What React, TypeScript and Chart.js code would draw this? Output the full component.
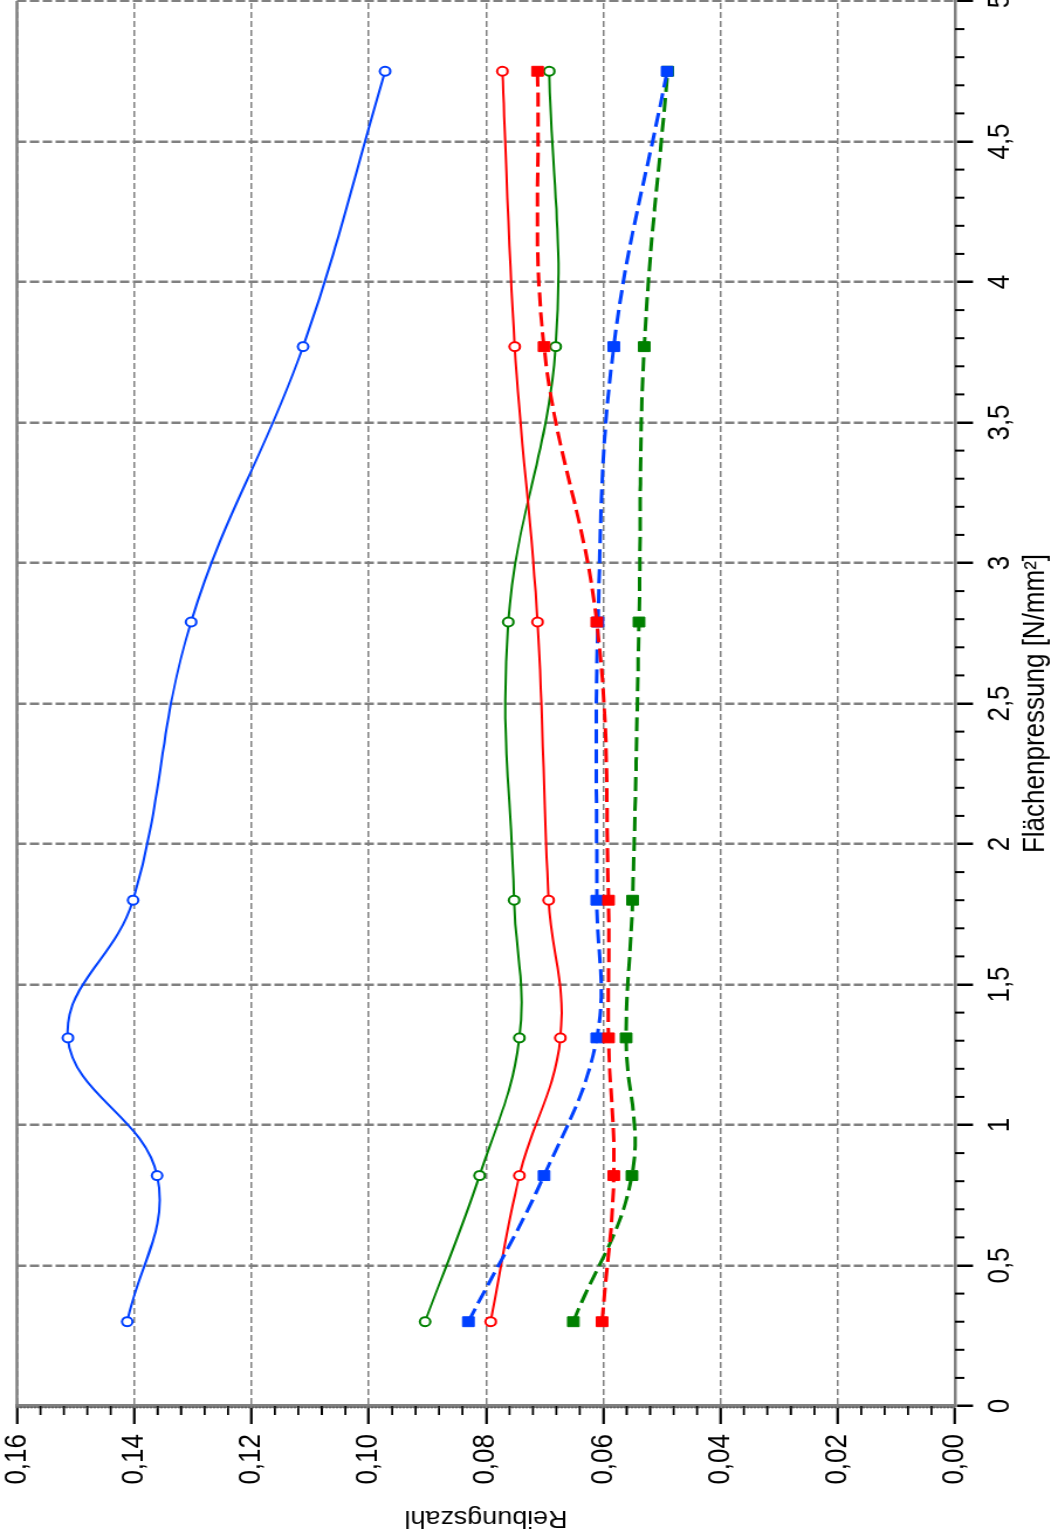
import React, { useEffect, useRef } from 'react';
import { Chart, registerables } from 'chart.js';

Chart.register(...registerables);

// ---- data ----
const pressure = [0.30, 0.82, 1.31, 1.80, 2.79, 3.77, 4.75];
const blueSolid = [0.1412, 0.1361, 0.1513, 0.1402, 0.1303, 0.1112, 0.0972];
const greenSolid = [0.0904, 0.0811, 0.0743, 0.0752, 0.0762, 0.0681, 0.0692];
const redSolid = [0.0792, 0.0743, 0.0673, 0.0693, 0.0712, 0.0751, 0.0772];
const blueDashed = [0.0830, 0.0701, 0.0611, 0.0611, 0.0609, 0.0582, 0.0491];
const redDashed = [0.0602, 0.0582, 0.0591, 0.0591, 0.0611, 0.0701, 0.0712];
const greenDashed = [0.0651, 0.0551, 0.0561, 0.0550, 0.0539, 0.0530, 0.0490];

const xTickValues = [0, 0.5, 1, 1.5, 2, 2.5, 3, 3.5, 4, 4.5, 5];
const yTickValues = [0, 0.02, 0.04, 0.06, 0.08, 0.1, 0.12, 0.14, 0.16];
const xTitle = 'Flächenpressung [N/mm²]';
const yTitle = 'Reibungszahl';

// ---- layout (unrotated canvas, later rotated -90deg) ----
const PAGE_W = 1051;
const PAGE_H = 1539;
const CW = 1560;
const CH = 898;
const SY = PAGE_W / CH;
const FONT = "'Liberation Sans', Arial, sans-serif";

const BLUE = '#0040ff';
const RED = '#ff0000';
const GREEN = '#008000';
const GRAY = '#808080';

const pts = (ys: number[]) => pressure.map((x, i) => ({ x, y: ys[i] }));

const decorPlugin = {
  id: 'decor',
  afterDraw(chart: any) {
    const { ctx, chartArea: ca } = chart;
    const xs = chart.scales.x;
    const ys = chart.scales.y;
    ctx.save();
    // top border
    ctx.strokeStyle = GRAY;
    ctx.lineWidth = 2.6;
    ctx.beginPath();
    ctx.moveTo(ca.left, ca.top);
    ctx.lineTo(ca.right, ca.top);
    ctx.stroke();
    // minor ticks on x
    ctx.strokeStyle = '#000';
    ctx.lineWidth = 2;
    ctx.beginPath();
    for (let i = 1; i < 50; i++) {
      if (i % 5 === 0) continue;
      const px = xs.getPixelForValue(i / 10);
      ctx.moveTo(px, ca.bottom);
      ctx.lineTo(px, ca.bottom + 8);
    }
    ctx.stroke();
    // minor ticks on y
    ctx.lineWidth = 1.8;
    ctx.beginPath();
    for (let i = 1; i < 40; i++) {
      if (i % 5 === 0) continue;
      const py = ys.getPixelForValue(i * 0.004);
      ctx.moveTo(ca.left, py);
      ctx.lineTo(ca.left - 9, py);
    }
    ctx.stroke();
    // hatch along y axis line
    ctx.setLineDash([1, 2]);
    ctx.strokeStyle = '#444';
    ctx.lineWidth = 2;
    ctx.beginPath();
    ctx.moveTo(ca.left - 1.5, ca.top);
    ctx.lineTo(ca.left - 1.5, ca.bottom);
    ctx.stroke();
    ctx.restore();
  },
};

export default function App() {
  const ref = useRef<HTMLCanvasElement | null>(null);

  useEffect(() => {
    if (!ref.current) return;
    const solid = (label: string, data: number[], color: string) => ({
      label,
      data: pts(data),
      borderColor: color,
      backgroundColor: '#ffffff',
      borderWidth: 2,
      pointStyle: 'circle',
      pointRadius: 4.5,
      pointBorderWidth: 2,
      pointBorderColor: color,
      pointBackgroundColor: '#ffffff',
      tension: 0.4,
      fill: false,
    });
    const dashed = (label: string, data: number[], color: string) => ({
      label,
      data: pts(data),
      borderColor: color,
      backgroundColor: color,
      borderWidth: 3,
      borderDash: [14, 6],
      pointStyle: 'rect',
      pointRadius: 7,
      pointBorderWidth: 1,
      pointBorderColor: color,
      pointBackgroundColor: color,
      tension: 0.4,
      fill: false,
    });

    const chart = new Chart(ref.current, {
      type: 'line',
      data: {
        datasets: [
          dashed('rot gestrichelt', redDashed, RED),
          dashed('blau gestrichelt', blueDashed, BLUE),
          dashed('grün gestrichelt', greenDashed, GREEN),
          solid('rot', redSolid, RED),
          solid('grün', greenSolid, GREEN),
          solid('blau', blueSolid, BLUE),
        ] as any,
      },
      options: {
        animation: false,
        responsive: false,
        devicePixelRatio: 1,
        layout: { padding: { top: 14.5, right: 22, bottom: 0, left: 0 } },
        plugins: { legend: { display: false }, tooltip: { enabled: false } },
        scales: {
          x: {
            type: 'linear',
            min: 0,
            max: 5,
            afterBuildTicks: (axis: any) => {
              axis.ticks = xTickValues.map((v) => ({ value: v }));
            },
            afterFit: (axis: any) => {
              axis.height = 82;
              axis.paddingLeft = 0;
              axis.paddingRight = 0;
            },
            ticks: {
              autoSkip: false,
              maxRotation: 0,
              padding: 10,
              color: '#000',
              font: { family: FONT, size: 26, lineHeight: 1 },
              callback: (v: any) => String(Number(v)).replace('.', ','),
            },
            grid: {
              color: GRAY,
              lineWidth: 2.5,
              tickLength: 15.4,
              tickColor: '#000',
              tickWidth: 2.5,
            },
            border: { display: true, color: GRAY, width: 2.6, dash: [8, 3] },
            title: {
              display: true,
              text: xTitle,
              color: '#000',
              font: { family: FONT, size: 26, lineHeight: 1 },
              padding: { top: 0, bottom: 0 },
            },
          },
          y: {
            type: 'linear',
            min: 0,
            max: 0.16,
            afterBuildTicks: (axis: any) => {
              axis.ticks = yTickValues.map((v) => ({ value: v }));
            },
            afterFit: (axis: any) => {
              axis.width = 133;
              axis.paddingTop = 0;
              axis.paddingBottom = 0;
            },
            ticks: {
              padding: 10,
              color: '#000',
              font: { family: FONT, size: 26, lineHeight: 1 },
              callback: (v: any) => Number(v).toFixed(2).replace('.', ','),
            },
            grid: {
              color: GRAY,
              lineWidth: 1.5,
              tickLength: 18,
              tickColor: '#000',
              tickWidth: 2.2,
            },
            border: { display: true, color: GRAY, width: 4, dash: [6, 3] },
            title: {
              display: true,
              text: yTitle,
              color: '#000',
              font: { family: FONT, size: 23, lineHeight: 1 },
              padding: { top: 10.5, bottom: 0 },
            },
          },
        },
      },
      plugins: [decorPlugin],
    });
    return () => chart.destroy();
  }, []);

  return (
    <div
      style={{
        position: 'absolute',
        left: 0,
        top: 0,
        width: PAGE_W,
        height: PAGE_H,
        overflow: 'hidden',
        background: '#ffffff',
      }}
    >
      <div
        style={{
          position: 'absolute',
          left: 0,
          top: 0,
          width: CW,
          height: CH,
          transformOrigin: '0 0',
          transform: `translateY(${PAGE_H}px) rotate(-90deg) scaleY(${SY})`,
        }}
      >
        <canvas ref={ref} width={CW} height={CH} style={{ display: 'block', width: CW, height: CH }} />
      </div>
    </div>
  );
}
